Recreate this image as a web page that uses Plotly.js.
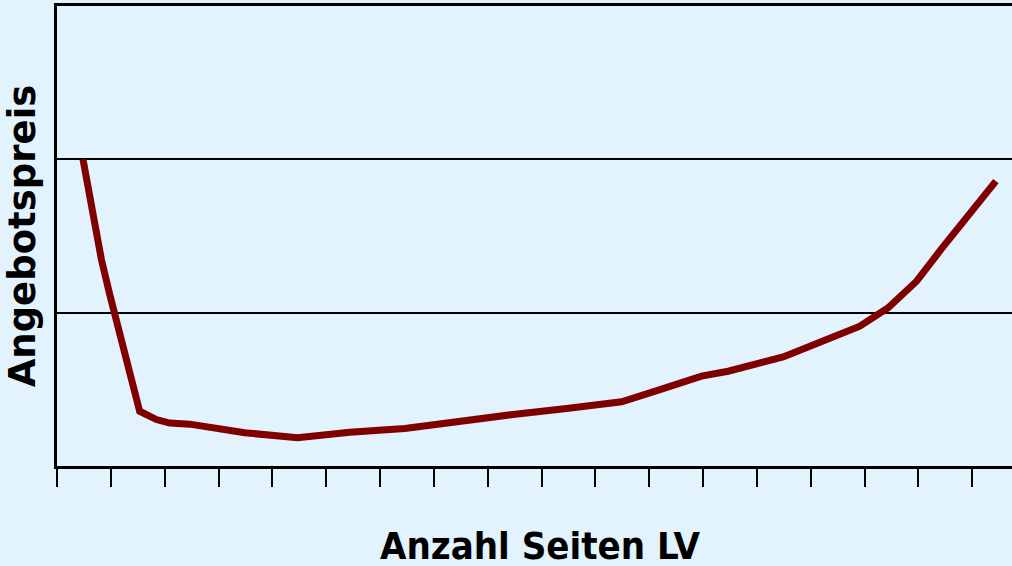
<!DOCTYPE html>
<html>
<head>
<meta charset="utf-8">
<script src="https://cdn.plot.ly/plotly-3.0.1.min.js"></script>
<style>html,body{margin:0;padding:0;background:#E2F3FE;}</style>
</head>
<body>
<div id="chart" style="width:1012px;height:566px;"></div>
<script>
// Anzahl Seiten LV (tick units)
const seiten = [0.483, 0.825, 0.979, 1.444, 1.536, 1.847, 2.094, 2.466, 3.488, 4.467, 5.438, 6.460, 7.451, 7.984, 8.473, 9.465, 9.953, 10.487, 11.013, 11.445, 11.973, 12.467, 12.995, 13.489, 13.985, 14.450, 14.914, 15.440, 15.968, 16.432, 16.834, 17.441];
// Angebotspreis (grid units)
const preis = [2.0, 1.347, 1.119, 0.455, 0.357, 0.303, 0.280, 0.273, 0.217, 0.184, 0.220, 0.245, 0.292, 0.316, 0.336, 0.375, 0.397, 0.419, 0.477, 0.521, 0.586, 0.618, 0.662, 0.711, 0.781, 0.847, 0.912, 1.032, 1.205, 1.417, 1.597, 1.858];
const xTitle = "Anzahl Seiten LV";
const yTitle = "Angebotspreis";

const trace = {
  x: seiten, y: preis, type: "scatter", mode: "lines",
  line: {color: "#800000", width: 7}, hoverinfo: "skip"
};

const layout = {
  width: 1012, height: 566,
  margin: {l: 57, r: 0, t: 6, b: 100},
  paper_bgcolor: "#E2F3FE", plot_bgcolor: "#E2F3FE",
  showlegend: false,
  xaxis: {
    range: [0, 17.74], tick0: 0, dtick: 1,
    showgrid: false, zeroline: false,
    showline: true, linecolor: "#000", linewidth: 3, mirror: true,
    ticks: "outside", ticklen: 18, tickwidth: 2, tickcolor: "#000",
    showticklabels: false
  },
  yaxis: {
    range: [0, 3], tick0: 0, dtick: 1,
    showgrid: true, gridcolor: "#000", gridwidth: 2,
    zeroline: false, showline: true, linecolor: "#000", linewidth: 3,
    ticks: "", showticklabels: false,
    title: {text: yTitle, standoff: 8, font: {family: "DejaVu Sans", size: 37, color: "#000", weight: "bold"}}
  },
  annotations: [{
    text: "<b>" + xTitle + "</b>", xref: "paper", yref: "paper",
    x: 0.506, y: -0.122, xanchor: "center", yanchor: "top", showarrow: false,
    font: {family: "DejaVu Sans Condensed, DejaVu Sans", size: 38, color: "#000"}
  }]
};

Plotly.newPlot("chart", [trace], layout, {displayModeBar: false, staticPlot: true});
</script>
</body>
</html>
